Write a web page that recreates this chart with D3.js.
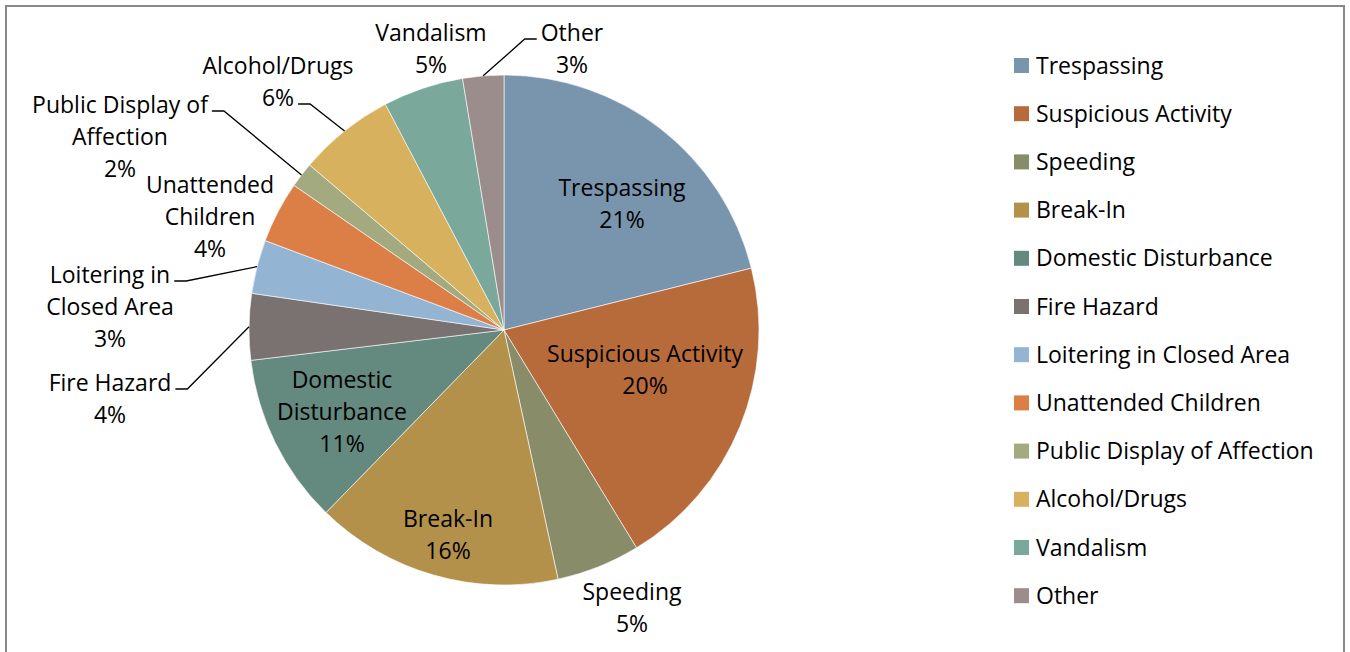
<!DOCTYPE html>
<html>
<head>
<meta charset="utf-8">
<script src="https://cdn.jsdelivr.net/npm/d3@7"></script>
<style>
  body { margin: 0; background: #fff; }
  text { font-family: "Open Sans", "Noto Sans", sans-serif; fill: #000; }
</style>
</head>
<body>
<div id="chart"></div>
<script>
// categories and their share of incidents (percent)
const categories = ["Trespassing", "Suspicious Activity", "Speeding", "Break-In",
  "Domestic Disturbance", "Fire Hazard", "Loitering in Closed Area", "Unattended Children",
  "Public Display of Affection", "Alcohol/Drugs", "Vandalism", "Other"];
const values = [21.1, 20.2, 5.3, 15.7, 10.8, 4.2, 3.4, 3.9, 1.6, 6.1, 5.1, 2.6];
const colors = ["#7995ae", "#b86b3a", "#898c68", "#b3914b", "#64897e", "#7a7171",
  "#93b4d3", "#dc7f47", "#a3aa80", "#d8b15e", "#7aa89b", "#9a8d8b"];
// how each data label is broken into lines
const labelLines = [["Trespassing"], ["Suspicious Activity"], ["Speeding"], ["Break-In"],
  ["Domestic", "Disturbance"], ["Fire Hazard"], ["Loitering in", "Closed Area"], ["Unattended", "Children"],
  ["Public Display of", "Affection"], ["Alcohol/Drugs"], ["Vandalism"], ["Other"]];

const width = 1350, height = 652;
const cx = 504, cy = 330, radius = 255;
const fontSize = 23, lineH = 32;

// label placement (centre of first line), leader: which line it hooks to and from which side
const labelLayout = {
  "Trespassing": {x: 622, y: 188},
  "Suspicious Activity": {x: 645, y: 354},
  "Speeding": {x: 632, y: 592},
  "Break-In": {x: 448, y: 519},
  "Domestic Disturbance": {x: 342, y: 380},
  "Fire Hazard": {x: 110, y: 383, leader: 0, side: "right"},
  "Loitering in Closed Area": {x: 110, y: 275, leader: 0, side: "right"},
  "Unattended Children": {x: 210, y: 185},
  "Public Display of Affection": {x: 120, y: 105, leader: 0, side: "right"},
  "Alcohol/Drugs": {x: 278, y: 66, leader: 1, side: "right"},
  "Vandalism": {x: 431, y: 33},
  "Other": {x: 572, y: 33, leader: 0, side: "left"}
};

const data = categories.map((c, i) => ({name: c, value: values[i], color: colors[i], lines: labelLines[i]}));
const total = d3.sum(values);

const svg = d3.select("#chart").append("svg")
  .attr("width", width)
  .attr("height", height);

// chart frame (bottom edge sits below the visible area)
svg.append("rect")
  .attr("x", 6).attr("y", 6)
  .attr("width", 1338).attr("height", 700)
  .attr("fill", "none")
  .attr("stroke", "#898989")
  .attr("stroke-width", 2);

const pie = d3.pie().sort(null).value(d => d.value);
const arcs = pie(data);

const arc = d3.arc().innerRadius(0).outerRadius(radius);
const edgeArc = d3.arc().innerRadius(radius).outerRadius(radius);

const g = svg.append("g").attr("transform", `translate(${cx},${cy})`);

g.selectAll("path.slice")
  .data(arcs)
  .enter().append("path")
    .attr("class", "slice")
    .attr("d", arc)
    .attr("fill", d => d.data.color)
    .attr("stroke", "#fff")
    .attr("stroke-width", 0.6);

// data labels
const labels = svg.append("g").selectAll("text.lbl")
  .data(arcs)
  .enter().append("text")
    .attr("class", "lbl")
    .attr("text-anchor", "middle")
    .style("font-size", fontSize + "px");

labels.each(function(d) {
  const pos = labelLayout[d.data.name];
  const t = d3.select(this);
  const lines = d.data.lines.concat([Math.round(d.data.value / total * 100) + "%"]);
  lines.forEach((ln, i) => {
    t.append("tspan")
      .attr("x", pos.x)
      .attr("y", pos.y + i * lineH)
      .attr("dy", "0.35em")
      .text(ln);
  });
});

// leader lines for the labels that sit outside
const leaders = svg.append("g")
  .attr("fill", "none")
  .attr("stroke", "#000")
  .attr("stroke-width", 1.3);

labels.each(function(d) {
  const pos = labelLayout[d.data.name];
  if (pos.leader === undefined) return;
  const tspan = d3.select(this).selectAll("tspan").nodes()[pos.leader];
  const w = tspan.getComputedTextLength();
  const ly = pos.y + pos.leader * lineH + 6;
  const dir = pos.side === "right" ? 1 : -1;
  const x0 = pos.x + dir * (w / 2 + 4);
  const x1 = x0 + dir * 12;
  const p = edgeArc.centroid(d);
  leaders.append("path")
    .attr("d", d3.line()([[x0, ly], [x1, ly], [cx + p[0], cy + p[1]]]));
});

// legend
const legend = svg.append("g")
  .attr("transform", "translate(1014,58)");

const item = legend.selectAll("g")
  .data(data)
  .enter().append("g")
    .attr("transform", (d, i) => `translate(0,${i * 48.2})`);

item.append("rect")
  .attr("width", 15).attr("height", 15)
  .attr("fill", d => d.color);

item.append("text")
  .attr("x", 22)
  .attr("y", 7.5)
  .attr("dy", "0.35em")
  .style("font-size", fontSize + "px")
  .text(d => d.name);
</script>
</body>
</html>
